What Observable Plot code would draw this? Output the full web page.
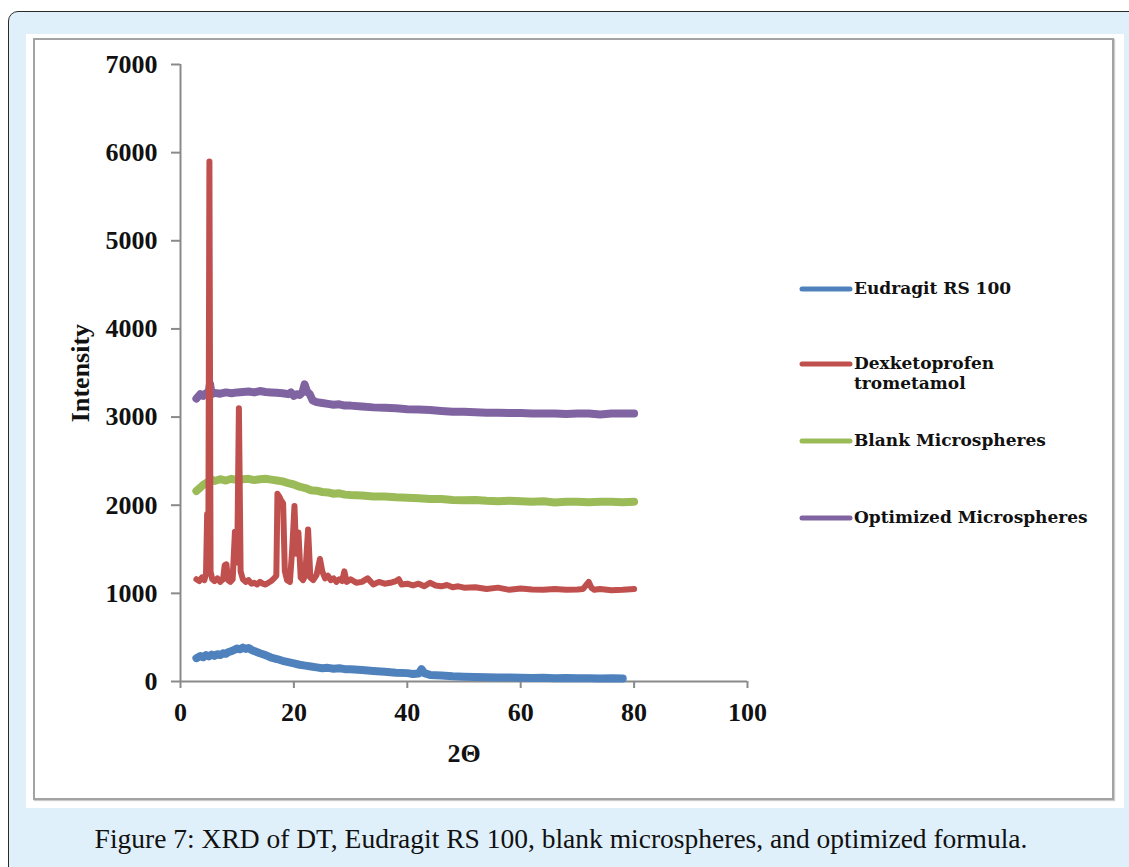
<!DOCTYPE html>
<html>
<head>
<meta charset="utf-8">
<script src="https://cdn.jsdelivr.net/npm/d3@7"></script>
<script src="https://cdn.jsdelivr.net/npm/@observablehq/plot@0.6"></script>
<style>
  html, body { margin: 0; padding: 0; background: #fff; }
  body { width: 1129px; height: 867px; position: relative; overflow: hidden; }
  #outer { position: absolute; left: 8px; top: 11px; width: 1140px; height: 880px;
           background: #dff0fb; border: 1.5px solid #2a2a2a; border-radius: 10px; box-sizing: border-box; }
  #white { position: absolute; left: 26px; top: 34px; width: 1098px; height: 774px; background: #fff; }
  #frame { position: absolute; left: 33px; top: 38px; width: 1081px; height: 762px;
           border: 2px solid #a3a3a3; box-sizing: border-box; box-shadow: 1px 1px 1px #ccc; }
  #chart { position: absolute; left: 35px; top: 40px; }
  #legend { position: absolute; left: 0; top: 0; font-family: "DejaVu Serif", serif; font-weight: bold;
            font-size: 17px; color: #111; }
  .item { position: absolute; left: 799px; display: flex; align-items: flex-start; }
  .item svg { display: block; margin-right: 1px; }
  .item span { line-height: 20px; white-space: nowrap; }
  #caption { position: absolute; left: 40px; width: 1042px; top: 825px; text-align: center;
             font-family: "Liberation Serif", serif; font-size: 27.5px; line-height: 27px; color: #111; white-space: nowrap; }
</style>
</head>
<body>
<div id="outer"></div>
<div id="white"></div>
<div id="frame"></div>
<div id="chart"></div>
<div id="legend"></div>
<div id="caption">Figure 7: XRD of DT, Eudragit RS 100, blank microspheres, and optimized formula.</div>
<script>
// ---- Data ----
const seriesNames = ["Eudragit RS 100", "Dexketoprofen trometamol", "Blank Microspheres", "Optimized Microspheres"];
const seriesColors = ["#4f81bd", "#c0504d", "#9bbb59", "#8064a2"];

const blueX = [2.8,3.5,4,4.5,5,5.5,6,6.5,7,7.5,8,8.5,9,9.5,10,10.5,11,11.5,12,12.5,13,14,15,16,17,18,19,20,21,22,23,24,25,26,27,28,29,30,32,34,36,38,40,41,42,42.5,43,44,46,48,50,52,54,56,58,60,62,64,66,68,70,72,74,76,78];
const blueY = [265,290,275,300,285,305,290,310,300,320,315,335,345,360,375,365,385,370,380,360,345,320,300,270,255,235,220,205,190,180,170,160,150,155,145,150,140,140,130,120,110,100,95,85,90,140,95,75,68,60,55,52,48,45,46,42,40,42,38,40,36,37,35,36,34];

const redX = [2.8,3.3,3.8,4.2,4.5,4.7,4.9,5.1,5.3,5.6,6,6.5,7,7.5,7.8,8.1,8.4,8.8,9.2,9.6,9.8,10.0,10.3,10.6,11,11.5,12,12.5,13,13.5,14,14.5,15,15.5,16,16.5,16.9,17.1,17.4,17.7,18.1,18.4,18.8,19.3,19.7,20.1,20.4,20.8,21.2,21.6,22.0,22.5,22.9,23.4,24,24.6,25,25.5,26,26.5,27,27.5,28,28.5,28.9,29.3,30,31,32,33,34,35,36,37,38,38.5,39,40,41,42,43,44,45,46,47,48,49,50,52,54,56,58,60,62,64,66,68,70,71,72,72.5,73,74,76,78,80];
const redY = [1160,1140,1180,1150,1220,1900,1250,5900,1250,1160,1140,1170,1130,1160,1320,1330,1150,1130,1160,1700,1400,1350,3100,1250,1160,1130,1150,1110,1120,1100,1130,1110,1100,1120,1140,1170,1200,2130,2100,2060,2020,1250,1150,1130,1500,1990,1450,1690,1180,1150,1200,1725,1180,1150,1210,1390,1250,1170,1200,1150,1170,1130,1160,1140,1250,1130,1160,1120,1130,1170,1100,1130,1110,1120,1140,1160,1100,1110,1090,1110,1080,1120,1090,1080,1095,1070,1080,1065,1070,1050,1065,1040,1055,1045,1040,1050,1040,1045,1050,1130,1060,1040,1050,1035,1040,1050];

const greenX = [2.8,3.5,4,4.5,5,5.5,6,7,8,9,10,11,12,13,14,15,16,17,18,19,20,21,22,23,24,25,26,27,28,29,30,32,34,36,38,40,42,44,46,48,50,52,54,56,58,60,62,64,66,68,70,72,74,76,78,80];
const greenY = [2160,2200,2230,2250,2270,2290,2275,2295,2280,2300,2285,2295,2300,2285,2295,2300,2290,2280,2270,2250,2235,2210,2195,2170,2165,2150,2145,2130,2135,2120,2115,2110,2100,2100,2090,2085,2080,2070,2070,2060,2055,2060,2050,2045,2050,2045,2040,2045,2030,2040,2040,2035,2040,2040,2035,2040];

const purpleX = [2.8,3.5,4,4.5,5,5.2,5.5,6,7,8,9,10,11,12,13,14,15,16,17,18,19,19.5,20,20.5,21,21.5,21.9,22.3,22.8,23.3,24,25,26,27,28,29,30,32,34,36,38,40,42,44,46,48,50,52,54,56,58,60,62,64,66,68,70,72,74,76,78,80];
const purpleY = [3210,3260,3240,3270,3290,3380,3260,3275,3265,3280,3270,3280,3285,3290,3280,3295,3285,3280,3275,3270,3260,3280,3240,3260,3250,3280,3370,3290,3260,3190,3170,3160,3150,3140,3145,3130,3130,3120,3110,3105,3100,3090,3085,3080,3070,3060,3060,3055,3050,3050,3045,3045,3040,3040,3040,3035,3040,3040,3030,3040,3040,3040];

const xTicks = [0, 20, 40, 60, 80, 100];
const yTicks = [0, 1000, 2000, 3000, 4000, 5000, 6000, 7000];
const xLabel = "2\u0398";
const yLabel = "Intensity";

// ---- Build long table ----
const xs = [blueX, redX, greenX, purpleX];
const ys = [blueY, redY, greenY, purpleY];
const rows = [];
seriesNames.forEach((name, i) => {
  xs[i].forEach((x, j) => rows.push({series: name, x, y: ys[i][j]}));
});
const redName = seriesNames[1];

const W = 1076, H = 757;
const tickFont = {fontFamily: "Liberation Serif, serif", fontWeight: "bold", fontSize: 26};

const chart = Plot.plot({
  width: W, height: H,
  marginLeft: 145, marginRight: 364, marginTop: 24, marginBottom: 116,
  style: {background: "transparent", fontFamily: "Liberation Serif, serif", color: "#111", overflow: "visible"},
  x: {domain: [0, 100]},
  y: {domain: [0, 7000]},
  color: {domain: seriesNames, range: seriesColors},
  marks: [
    Plot.axisY({ticks: yTicks, tickSize: 9, tickPadding: 14, stroke: "#8a8a8a", strokeWidth: 2, fill: "#111",
      tickFormat: d => String(d), label: null, ...tickFont}),
    Plot.axisX({ticks: xTicks, tickSize: 7, tickPadding: 14, stroke: "#8a8a8a", strokeWidth: 2, fill: "#111",
      tickFormat: d => String(d), label: null, ...tickFont}),
    Plot.ruleX([0], {stroke: "#8a8a8a", strokeWidth: 2}),
    Plot.ruleY([0], {stroke: "#8a8a8a", strokeWidth: 2}),
    Plot.lineY(rows.filter(d => d.series !== redName), {x: "x", y: "y", z: "series", stroke: "series", strokeWidth: 8,
      strokeLinejoin: "round", strokeLinecap: "round"}),
    Plot.lineY(rows.filter(d => d.series === redName), {x: "x", y: "y", z: "series", stroke: "series", strokeWidth: 6,
      strokeLinejoin: "round", strokeLinecap: "round"}),
    Plot.text([xLabel], {frameAnchor: "bottom", dy: 72, text: d => d, lineAnchor: "middle", textAnchor: "middle", ...tickFont}),
    Plot.text([yLabel], {frameAnchor: "left", dx: -100, rotate: -90, text: d => d, lineAnchor: "middle", textAnchor: "middle",
      fontFamily: "Liberation Serif, serif", fontWeight: "bold", fontSize: 26})
  ]
});
document.getElementById("chart").appendChild(chart);

// ---- Legend (HTML) ----
const legendLines = [["Eudragit RS 100"], ["Dexketoprofen", "trometamol"], ["Blank Microspheres"], ["Optimized Microspheres"]];
const legendTops = [278, 353, 430, 507];
const legend = document.getElementById("legend");
seriesNames.forEach((name, i) => {
  const item = document.createElement("div");
  item.className = "item";
  item.style.top = legendTops[i] + "px";
  item.innerHTML = `<svg width="54" height="20"><line x1="3" y1="11" x2="51" y2="11" stroke="${seriesColors[i]}" stroke-width="5" stroke-linecap="round"/></svg><span>${legendLines[i].join("<br>")}</span>`;
  legend.appendChild(item);
});
</script>
</body>
</html>
